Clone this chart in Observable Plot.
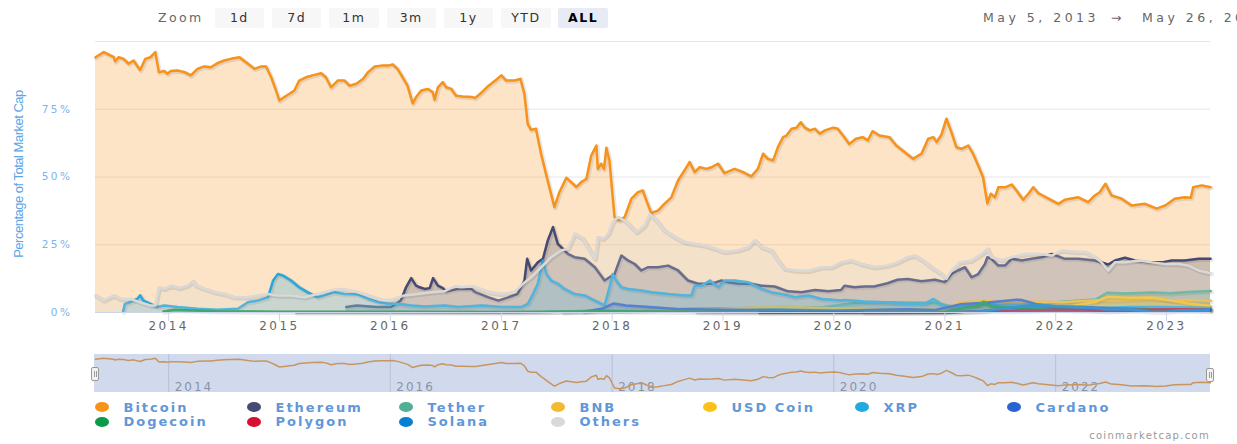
<!DOCTYPE html>
<html><head><meta charset="utf-8">
<script src="https://cdn.jsdelivr.net/npm/d3@7"></script>
<script src="https://cdn.jsdelivr.net/npm/@observablehq/plot@0.6"></script>
<style>
html,body{margin:0;padding:0;overflow:hidden;background:#fff}
body{width:1237px;height:444px;position:relative;font-family:"DejaVu Sans",Verdana,sans-serif}
.abs{position:absolute}
.btn{position:absolute;top:8px;width:49.5px;height:20px;line-height:20px;background:#f7f7f7;color:#333;font-size:12.5px;letter-spacing:1.5px;text-align:center;border-radius:2px}
.btn.sel{background:#e6ebf5;color:#000;font-weight:bold}
.rng{position:absolute;top:8px;line-height:20px;font-size:12.5px;color:#666;letter-spacing:3.5px;white-space:nowrap}
#main g[aria-label="x-axis tick label"] text{letter-spacing:2.5px}
#main g[aria-label="y-axis tick label"] text{letter-spacing:2.5px}
#nav g[aria-label="text"] text{letter-spacing:2px}
#ytitle{position:absolute;left:-81.5px;top:166px;width:200px;height:16px;line-height:16px;text-align:center;transform:rotate(-90deg);transform-origin:100px 8px;font-family:"Liberation Sans",Arial,sans-serif;font-size:13px;letter-spacing:-0.5px;color:#5ba4e5;white-space:nowrap}
.handle{position:absolute;width:8px;height:14px;background:#f2f2f2;border:1px solid #999;border-radius:2px;box-sizing:border-box}
.handle:before,.handle:after{content:"";position:absolute;top:3px;height:6px;border-left:1px solid #999}
.handle:before{left:2px}.handle:after{left:4px}
#legend{position:absolute;left:95px;top:400px;width:1064px;display:flex;flex-wrap:wrap}
.li{width:152px;height:14.5px;display:flex;align-items:center}
.mk{width:14px;height:10px;border-radius:50%;margin-right:14.5px;flex:none}
.lt{font-weight:bold;font-size:13px;letter-spacing:2px;color:#6197d8;white-space:nowrap}
</style></head><body>
<div id="toolbar"></div>
<div id="main" class="abs" style="left:0;top:36px"></div>
<div id="ytitle"></div>
<div class="abs" style="left:94px;top:354px;width:1116px;height:38px;background:#d1daed"></div>
<div id="nav" class="abs" style="left:0;top:354px"></div>
<div class="handle" style="left:91px;top:367px"></div>
<div class="handle" style="left:1206px;top:368px"></div>
<div id="legend"></div>
<div class="abs" style="right:27px;top:430px;font-size:10px;color:#999;letter-spacing:1.3px">coinmarketcap.com</div>
<script>
// ---------- data (percent of total market cap) ----------
const bitcoin = [["2013-05-05",94.2],["2013-06-01",96.1],["2013-07-04",94.2],["2013-07-09",92.7],["2013-07-20",94.2],["2013-08-05",93.6],["2013-08-22",91.8],["2013-09-07",93.0],["2013-09-29",89.5],["2013-10-16",93.6],["2013-11-02",94.2],["2013-11-18",96.1],["2013-11-30",88.7],["2013-12-17",89.1],["2013-12-28",88.1],["2014-01-08",89.1],["2014-01-30",89.3],["2014-02-22",88.7],["2014-03-15",87.5],["2014-04-06",89.9],["2014-04-28",90.8],["2014-05-20",90.5],["2014-06-11",92.0],["2014-07-03",93.0],["2014-07-25",93.6],["2014-08-22",94.2],["2014-09-19",91.8],["2014-10-11",89.9],["2014-11-02",90.8],["2014-11-18",90.8],["2014-12-05",86.8],["2014-12-21",81.9],["2015-01-01",78.2],["2015-01-17",79.5],["2015-02-03",80.7],["2015-02-19",81.9],["2015-03-07",85.6],["2015-03-29",86.8],["2015-04-20",87.5],["2015-05-18",88.3],["2015-06-03",86.8],["2015-06-20",83.1],["2015-07-12",85.6],["2015-08-03",85.6],["2015-08-20",83.7],["2015-09-11",84.4],["2015-10-03",86.2],["2015-10-20",88.7],["2015-11-11",90.8],["2015-12-03",91.1],["2015-12-25",91.1],["2016-01-09",91.5],["2016-01-25",89.9],["2016-02-11",86.8],["2016-02-27",83.7],["2016-03-15",77.2],["2016-03-26",79.5],["2016-04-12",81.9],["2016-05-04",82.5],["2016-05-20",81.3],["2016-05-26",78.5],["2016-06-06",83.1],["2016-06-22",85.0],["2016-07-03",83.1],["2016-07-20",82.5],["2016-08-05",80.0],["2016-08-27",79.7],["2016-09-24",79.5],["2016-10-07",79.2],["2016-10-29",81.3],["2016-11-20",83.7],["2016-12-12",85.6],["2017-01-01",87.5],["2017-01-17",85.6],["2017-02-13",85.6],["2017-03-05",86.2],["2017-03-18",80.7],["2017-03-29",69.6],["2017-04-09",67.4],["2017-04-25",67.8],["2017-05-12",58.6],["2017-05-28",51.2],["2017-06-08",46.3],["2017-06-25",38.9],["2017-07-11",44.4],["2017-08-03",49.7],["2017-08-19",48.1],["2017-09-05",46.3],["2017-09-21",48.1],["2017-10-08",49.3],["2017-10-24",57.9],["2017-11-10",61.6],["2017-11-15",53.0],["2017-11-26",54.9],["2017-12-05",53.0],["2017-12-13",60.8],["2017-12-23",56.1],["2018-01-09",35.2],["2018-01-25",33.9],["2018-02-11",35.2],["2018-03-05",41.9],["2018-03-27",44.4],["2018-04-12",45.0],["2018-04-28",40.1],["2018-05-10",36.7],["2018-06-01",37.6],["2018-06-22",40.1],["2018-07-15",42.5],["2018-08-06",48.7],["2018-08-27",52.4],["2018-09-13",55.5],["2018-09-30",51.8],["2018-10-16",53.6],["2018-11-08",53.0],["2018-11-24",53.6],["2018-12-16",54.9],["2019-01-06",51.4],["2019-02-08",53.0],["2019-03-08",51.8],["2019-04-04",50.2],["2019-04-26",53.0],["2019-05-13",58.6],["2019-05-29",56.7],["2019-06-15",56.1],["2019-07-01",61.0],["2019-07-18",64.7],["2019-07-29",65.3],["2019-08-15",67.8],["2019-08-31",68.2],["2019-09-14",70.2],["2019-09-28",68.2],["2019-10-14",67.2],["2019-10-31",67.8],["2019-11-16",66.0],["2019-12-03",67.2],["2019-12-30",68.2],["2020-01-14",67.8],["2020-02-05",64.7],["2020-02-21",62.2],["2020-03-14",64.1],["2020-04-05",64.7],["2020-04-22",63.5],["2020-05-08",66.9],["2020-05-30",65.3],["2020-07-02",64.7],["2020-07-25",61.6],["2020-08-21",59.2],["2020-09-18",56.7],["2020-10-16",58.6],["2020-11-07",64.1],["2020-11-24",64.7],["2020-12-05",62.9],["2020-12-21",65.7],["2021-01-06",71.5],["2021-01-23",66.5],["2021-02-08",61.0],["2021-02-25",60.4],["2021-03-19",61.6],["2021-04-04",58.6],["2021-04-21",54.2],["2021-05-07",49.9],["2021-05-21",40.3],["2021-06-01",43.8],["2021-06-15",42.5],["2021-06-26",46.2],["2021-07-18",46.2],["2021-08-09",47.2],["2021-08-25",45.0],["2021-09-16",41.6],["2021-10-03",43.8],["2021-10-19",46.2],["2021-11-05",44.0],["2021-12-08",42.0],["2022-01-10",40.1],["2022-01-31",41.6],["2022-03-16",42.5],["2022-04-18",40.7],["2022-05-10",43.2],["2022-05-26",44.4],["2022-06-14",47.5],["2022-07-04",43.2],["2022-08-06",42.0],["2022-09-08",39.5],["2022-10-22",40.1],["2022-11-30",38.3],["2022-12-28",39.5],["2023-01-28",42.0],["2023-03-02",42.5],["2023-03-22",42.3],["2023-03-30",46.2],["2023-04-27",46.9],["2023-05-26",46.2]];

const ethereum = [["2015-08-09",2.0],["2015-09-12",2.6],["2015-11-17",2.0],["2016-01-04",2.0],["2016-02-05",4.4],["2016-02-22",9.3],["2016-03-10",12.7],["2016-03-26",9.9],["2016-04-07",9.3],["2016-04-23",8.7],["2016-05-10",9.0],["2016-05-21",12.7],["2016-06-06",9.9],["2016-06-22",9.0],["2016-07-03",7.8],["2016-08-11",8.7],["2016-09-24",8.7],["2016-10-07",7.5],["2016-11-20",5.6],["2016-12-22",4.4],["2017-01-24",5.6],["2017-02-23",6.8],["2017-03-18",11.8],["2017-03-27",19.8],["2017-04-09",15.5],["2017-05-01",18.5],["2017-05-18",19.8],["2017-06-03",26.6],["2017-06-20",31.5],["2017-07-06",25.3],["2017-07-23",23.5],["2017-08-08",21.6],["2017-08-30",20.4],["2017-10-02",19.8],["2017-11-05",16.7],["2017-12-07",11.8],["2018-01-09",14.2],["2018-01-31",21.0],["2018-02-22",19.2],["2018-03-16",17.9],["2018-04-07",15.5],["2018-04-28",16.7],["2018-06-01",16.7],["2018-07-04",17.3],["2018-08-06",15.5],["2018-09-08",11.8],["2018-10-11",10.6],["2018-11-24",10.6],["2018-12-27",11.8],["2019-01-17",11.2],["2019-02-19",10.6],["2019-04-04",10.6],["2019-05-08",9.9],["2019-06-20",9.6],["2019-08-03",7.8],["2019-09-17",7.5],["2019-10-31",8.3],["2019-12-14",7.8],["2020-01-25",8.3],["2020-02-05",9.9],["2020-03-09",9.3],["2020-04-11",9.6],["2020-05-13",9.6],["2020-06-26",10.8],["2020-07-29",12.1],["2020-08-31",12.4],["2020-10-16",11.5],["2020-11-29",12.1],["2021-01-01",11.2],["2021-01-23",14.2],["2021-02-13",15.5],["2021-03-08",16.7],["2021-03-30",13.0],["2021-04-21",14.2],["2021-05-13",17.9],["2021-05-21",20.4],["2021-06-03",19.8],["2021-06-26",17.3],["2021-07-18",17.3],["2021-08-09",19.8],["2021-09-11",19.2],["2021-10-14",19.8],["2021-11-16",20.4],["2021-12-19",21.6],["2022-01-31",19.8],["2022-03-16",19.8],["2022-05-10",19.2],["2022-06-23",17.7],["2022-07-15",19.2],["2022-08-17",20.2],["2022-09-19",19.2],["2022-11-02",18.5],["2022-12-17",18.5],["2023-01-18",19.2],["2023-03-02",19.2],["2023-04-17",19.8],["2023-05-26",19.8]];

const tether = [["2015-02-25",0.05],["2016-06-01",0.05],["2017-01-01",0.1],["2017-06-01",0.2],["2017-12-01",0.8],["2018-02-01",0.6],["2018-06-01",1.0],["2018-10-01",1.5],["2019-01-01",1.6],["2019-06-01",1.7],["2019-12-01",2.0],["2020-03-15",3.5],["2020-06-01",3.8],["2020-09-01",3.7],["2020-12-01",3.5],["2021-01-15",2.5],["2021-04-15",2.1],["2021-05-21",3.6],["2021-07-01",3.9],["2021-09-01",3.0],["2021-12-01",3.4],["2022-01-20",4.0],["2022-05-12",4.8],["2022-06-20",7.3],["2022-08-15",7.0],["2022-11-15",7.4],["2023-01-15",7.1],["2023-03-15",7.6],["2023-05-26",7.9]];

const bnb = [["2017-07-25",0.1],["2018-01-15",0.6],["2018-06-01",1.0],["2019-01-01",1.3],["2019-06-20",2.2],["2020-01-01",1.6],["2020-07-01",1.3],["2021-01-01",1.2],["2021-02-20",3.8],["2021-05-10",4.2],["2021-07-01",3.8],["2021-11-01",4.0],["2022-01-20",3.8],["2022-05-15",4.5],["2022-08-01",4.5],["2022-11-08",5.0],["2023-01-15",4.5],["2023-03-15",4.6],["2023-05-26",4.3]];

const usdCoin = [["2018-10-08",0.1],["2020-06-01",0.2],["2020-12-01",0.5],["2021-05-15",0.9],["2021-09-01",1.5],["2021-12-01",1.9],["2022-03-01",2.5],["2022-05-15",4.0],["2022-06-20",5.8],["2022-09-01",5.4],["2022-11-15",5.5],["2023-01-15",4.4],["2023-03-15",3.3],["2023-05-26",2.4]];

const xrp = [["2013-08-04",0.4],["2013-08-10",3.2],["2013-08-27",3.8],["2013-09-19",5.0],["2013-09-29",6.3],["2013-10-10",4.4],["2013-11-02",3.2],["2013-11-24",2.0],["2013-12-17",2.6],["2014-01-30",2.0],["2014-04-06",1.4],["2014-06-11",1.0],["2014-08-17",1.4],["2014-09-19",3.8],["2014-10-22",4.4],["2014-11-24",5.6],["2014-12-11",11.8],["2014-12-27",14.2],["2015-01-13",13.6],["2015-02-08",11.8],["2015-03-07",9.3],["2015-04-03",7.5],["2015-05-07",5.6],["2015-05-29",6.3],["2015-07-01",7.5],["2015-08-03",6.8],["2015-09-16",6.6],["2015-10-20",5.0],["2015-11-22",3.8],["2015-12-25",3.2],["2016-01-25",3.2],["2016-03-10",2.6],["2016-04-23",2.2],["2016-06-27",2.6],["2016-08-11",2.0],["2016-10-29",2.6],["2017-01-01",2.0],["2017-03-07",2.0],["2017-03-29",3.2],["2017-04-15",6.8],["2017-05-01",10.6],["2017-05-18",19.2],["2017-05-29",14.2],["2017-06-14",11.8],["2017-07-06",10.6],["2017-07-28",8.7],["2017-08-30",6.8],["2017-10-02",6.3],["2017-11-05",4.4],["2017-12-07",2.6],["2017-12-23",9.3],["2018-01-03",14.2],["2018-01-14",11.8],["2018-01-31",9.3],["2018-02-22",8.7],["2018-04-07",8.1],["2018-05-10",7.5],["2018-07-04",6.8],["2018-08-27",6.3],["2018-09-19",6.3],["2018-09-30",9.9],["2018-10-22",9.9],["2018-11-19",11.8],["2018-12-16",9.3],["2019-01-06",11.8],["2019-02-08",11.8],["2019-03-24",11.2],["2019-05-08",8.7],["2019-06-09",7.5],["2019-07-23",6.6],["2019-08-26",5.6],["2019-10-09",6.3],["2019-11-22",5.0],["2020-01-25",4.4],["2020-02-05",4.6],["2020-04-11",4.1],["2020-06-16",3.8],["2020-08-21",3.2],["2020-10-26",3.2],["2020-11-24",5.0],["2020-12-11",3.8],["2021-01-01",2.0],["2021-02-13",2.0],["2021-04-10",2.6],["2021-05-13",3.2],["2021-06-26",2.6],["2021-08-30",2.6],["2021-11-05",2.2],["2022-01-31",2.0],["2022-05-21",1.7],["2022-09-08",2.0],["2022-12-28",2.0],["2023-05-26",1.7]];

const cardano = [["2017-10-01",0.3],["2017-12-01",1.5],["2018-01-05",3.3],["2018-02-15",2.6],["2018-05-01",2.0],["2018-08-01",1.3],["2019-01-01",1.0],["2019-06-01",0.9],["2020-01-01",0.6],["2020-06-01",1.0],["2020-09-01",1.2],["2020-12-01",0.9],["2021-02-20",3.0],["2021-05-15",3.6],["2021-08-25",4.7],["2021-09-10",4.6],["2021-11-01",3.0],["2022-01-01",2.0],["2022-04-01",2.0],["2022-07-01",1.6],["2022-11-01",1.2],["2023-02-01",1.2],["2023-05-26",1.1]];

const dogecoin = [["2013-12-15",0.4],["2014-01-20",1.0],["2014-06-01",0.5],["2015-01-01",0.3],["2016-01-01",0.3],["2017-01-01",0.15],["2017-06-01",0.3],["2018-01-10",0.5],["2019-01-01",0.2],["2020-01-01",0.2],["2021-01-01",0.2],["2021-02-08",1.1],["2021-04-20",2.6],["2021-05-08",4.0],["2021-06-01",2.3],["2021-09-01",1.5],["2021-11-01",1.3],["2022-03-01",0.9],["2022-09-01",0.8],["2022-11-01",1.2],["2023-02-01",0.9],["2023-05-26",0.8]];

const polygon = [["2019-05-01",0.02],["2021-02-01",0.1],["2021-05-15",0.6],["2021-08-01",0.5],["2021-12-27",1.0],["2022-04-01",0.8],["2022-06-20",0.5],["2022-09-01",0.8],["2022-11-01",1.0],["2023-02-15",1.2],["2023-05-26",0.8]];

const solana = [["2020-04-10",0.05],["2021-01-01",0.1],["2021-05-01",0.5],["2021-09-10",2.2],["2021-11-05",2.9],["2022-01-01",2.3],["2022-04-01",2.0],["2022-06-20",1.1],["2022-09-01",1.1],["2022-11-09",0.4],["2023-01-01",0.3],["2023-02-15",0.8],["2023-05-26",0.7]];

const others = [["2013-05-05",6.3],["2013-06-01",4.4],["2013-07-04",6.3],["2013-07-25",5.0],["2013-08-27",5.0],["2013-09-29",3.8],["2013-11-02",2.6],["2013-11-18",2.6],["2013-11-30",9.3],["2013-12-17",8.7],["2014-01-08",9.9],["2014-02-04",9.0],["2014-03-04",9.9],["2014-03-22",11.5],["2014-04-01",9.9],["2014-04-28",8.7],["2014-06-01",7.5],["2014-07-03",6.8],["2014-08-06",5.6],["2014-09-19",5.6],["2014-10-22",6.3],["2014-11-24",6.8],["2014-12-27",6.3],["2015-02-08",6.3],["2015-03-24",5.6],["2015-05-07",6.8],["2015-06-20",8.2],["2015-07-23",8.7],["2015-09-05",7.8],["2015-10-20",6.3],["2015-12-03",4.6],["2016-01-04",4.6],["2016-02-16",6.3],["2016-03-31",6.8],["2016-05-14",7.5],["2016-06-27",7.8],["2016-07-31",9.6],["2016-08-21",9.3],["2016-09-24",9.6],["2016-10-07",9.3],["2016-11-20",7.5],["2017-01-01",6.8],["2017-02-13",7.5],["2017-03-13",10.6],["2017-04-09",13.0],["2017-05-12",16.7],["2017-06-14",20.4],["2017-07-17",22.9],["2017-08-08",23.5],["2017-08-30",29.0],["2017-09-27",27.2],["2017-10-13",24.1],["2017-11-05",19.8],["2017-11-15",27.8],["2017-12-02",27.2],["2017-12-19",29.0],["2018-01-03",33.4],["2018-01-20",35.2],["2018-02-11",33.9],["2018-02-28",32.1],["2018-03-22",29.6],["2018-04-18",32.1],["2018-05-05",36.4],["2018-05-27",33.9],["2018-06-22",30.2],["2018-07-26",27.8],["2018-08-27",25.9],["2018-09-30",25.3],["2018-11-03",24.7],["2018-12-06",23.5],["2019-01-06",22.3],["2019-02-19",22.9],["2019-03-24",24.1],["2019-04-15",26.6],["2019-05-08",24.1],["2019-06-09",22.9],["2019-07-01",19.2],["2019-07-23",16.1],["2019-08-26",15.5],["2019-10-09",15.3],["2019-11-22",16.7],["2019-12-24",16.7],["2020-01-25",18.5],["2020-02-26",19.2],["2020-03-30",17.9],["2020-05-13",16.7],["2020-06-26",17.3],["2020-07-29",18.5],["2020-08-31",20.4],["2020-09-23",21.0],["2020-10-20",19.2],["2020-11-17",16.7],["2020-12-21",14.2],["2021-01-06",12.4],["2021-01-23",15.5],["2021-02-19",18.5],["2021-03-30",19.2],["2021-05-02",21.6],["2021-05-21",23.5],["2021-06-03",20.4],["2021-07-07",19.2],["2021-08-09",20.4],["2021-09-22",21.6],["2021-11-05",21.6],["2021-12-19",21.0],["2022-01-20",22.9],["2022-03-05",22.3],["2022-04-07",22.3],["2022-05-10",20.4],["2022-06-01",18.5],["2022-06-23",15.5],["2022-07-15",18.5],["2022-08-17",18.5],["2022-10-01",19.2],["2022-11-14",18.5],["2022-12-28",17.9],["2023-02-10",17.9],["2023-03-15",17.3],["2023-04-17",15.5],["2023-05-26",14.5]];

const seriesNames = ["Bitcoin","Ethereum","Tether","BNB","USD Coin","XRP","Cardano","Dogecoin","Polygon","Solana","Others"];
const seriesColors = ["#f7931a","#454a75","#50af95","#f3ba2f","#fcc21b","#23a8e0","#2a64d0","#0a9a48","#d6102e","#0680d4","#d9d9d9"];
const seriesValues = [bitcoin, ethereum, tether, bnb, usdCoin, xrp, cardano, dogecoin, polygon, solana, others];

const xStart = "2013-05-05", xEnd = "2023-05-26";
const xTickYears = [2014,2015,2016,2017,2018,2019,2020,2021,2022,2023];
const navTickYears = [2014,2016,2018,2020,2022];
const yTicks = [0,25,50,75];
const yGrid = [25,50,75,100];
const zoomButtons = ["1d","7d","1m","3m","1y","YTD","ALL"];
const selectedButton = "ALL";
const dateRange = ["May 5, 2013","May 26, 2023"];
const yTitle = "Percentage of Total Market Cap";

// ---------- helpers ----------
const toRows = pairs => pairs.map(([d, v]) => ({date: new Date(d), value: v}));
const yearDate = y => new Date(Date.UTC(y, 0, 1));
const yearLabel = d => String(d.getUTCFullYear());
const xDomain = [new Date(xStart), new Date(xEnd)];

// ---------- toolbar & title ----------
const tb = document.getElementById("toolbar");
tb.innerHTML = `<div class="rng" style="left:158px;letter-spacing:2.4px">Zoom</div>` +
  zoomButtons.map((b, i) => `<div class="btn${b === selectedButton ? " sel" : ""}" style="left:${214.6 + i * 57.3}px">${b}</div>`).join("") +
  `<div class="rng" style="left:983px">${dateRange[0]}</div><div class="rng" style="left:1111px;letter-spacing:0">→</div><div class="rng" style="left:1142px">${dateRange[1]}</div>`;
document.getElementById("ytitle").textContent = yTitle;

// ---------- main chart ----------
const marks = [Plot.gridY(yGrid, {stroke: "#e6e6e6", strokeOpacity: 1})];
seriesValues.forEach((s, i) => {
  const rows = toRows(s), c = seriesColors[i];
  marks.push(Plot.areaY(rows, {x: "date", y: "value", fill: c, fillOpacity: 0.25}));
  marks.push(Plot.lineY(rows, {x: "date", y: "value", stroke: "#000", strokeOpacity: 0.09, strokeWidth: 4.5, dx: 1, dy: 1}));
  marks.push(Plot.lineY(rows, {x: "date", y: "value", stroke: c, strokeWidth: 2.5}));
});
marks.push(Plot.ruleY([0], {stroke: "#ccd6eb"}));
marks.push(Plot.axisX(xTickYears.map(yearDate), {tickSize: 9, tickPadding: 0, stroke: "#ccd6eb", fill: "#666", fontSize: 12, tickFormat: yearLabel, label: null}));
marks.push(Plot.axisY(yTicks, {tickSize: 0, tickPadding: 23, fill: "#7cb5ec", fontSize: 10.5, tickFormat: d => d + "%", label: null}));

document.getElementById("main").append(Plot.plot({
  width: 1237, height: 306,
  marginLeft: 95, marginRight: 27, marginTop: 5, marginBottom: 30,
  x: {type: "utc", domain: xDomain},
  y: {domain: [0, 100]},
  style: {fontFamily: "'DejaVu Sans',Verdana,sans-serif", background: "transparent", overflow: "visible"},
  marks
}));

// ---------- navigator ----------
const navDates = navTickYears.map(yearDate);
document.getElementById("nav").append(Plot.plot({
  width: 1237, height: 38,
  marginLeft: 95, marginRight: 27, marginTop: 0, marginBottom: 0,
  x: {type: "utc", domain: xDomain, axis: null},
  y: {domain: [26, 104], axis: null},
  style: {fontFamily: "'DejaVu Sans',Verdana,sans-serif", background: "transparent"},
  marks: [
    Plot.ruleX(navDates, {stroke: "#b7c0d3"}),
    Plot.text(navDates, {x: d => d, text: yearLabel, frameAnchor: "bottom", textAnchor: "start", lineAnchor: "bottom", dx: 6, dy: -2, fill: "#8a93a6", fontSize: 12}),
    Plot.lineY(toRows(bitcoin), {x: "date", y: "value", stroke: "#c8955e", strokeWidth: 1.5})
  ]
}));

// ---------- legend ----------
document.getElementById("legend").innerHTML = seriesNames.map((n, i) =>
  `<div class="li"><span class="mk" style="background:${seriesColors[i]}"></span><span class="lt">${n}</span></div>`).join("");
</script>
</body></html>
